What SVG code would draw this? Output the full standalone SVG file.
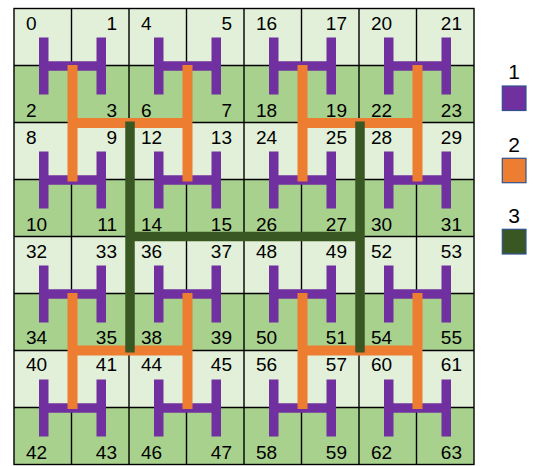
<svg xmlns="http://www.w3.org/2000/svg" width="539" height="466" viewBox="0 0 539 466">
<style>
.lt{fill:#E2F0D9}
.dk{fill:#A9D18E}
.gl{stroke:#000;stroke-width:1.4;fill:none}
.lb{font-family:"Liberation Sans",Arial,sans-serif;font-size:19px;fill:#000}
.e{text-anchor:end}
.lg{font-family:"Liberation Sans",Arial,sans-serif;font-size:21px;fill:#000;text-anchor:middle}
.p{stroke:#7030A0;stroke-width:9.5;fill:none}
.o{stroke:#ED7D31;stroke-width:10;fill:none}
.g{stroke:#385723;stroke-width:9.5;fill:none}
.sq{stroke:#2F528F;stroke-width:1.2}
</style>
<rect width="539" height="466" fill="#fff"/>
<g id="grid">
<rect class="lt" x="14" y="8.5" width="460" height="57"/>
<rect class="dk" x="14" y="65.5" width="460" height="57"/>
<rect class="lt" x="14" y="122.5" width="460" height="57"/>
<rect class="dk" x="14" y="179.5" width="460" height="57"/>
<rect class="lt" x="14" y="236.5" width="460" height="57"/>
<rect class="dk" x="14" y="293.5" width="460" height="57"/>
<rect class="lt" x="14" y="350.5" width="460" height="57"/>
<rect class="dk" x="14" y="407.5" width="460" height="57"/>
<path class="gl" d="M71.5 8.5V464.5M129 8.5V464.5M186.5 8.5V464.5M244 8.5V464.5M301.5 8.5V464.5M359 8.5V464.5M416.5 8.5V464.5M14 65.5H474M14 122.5H474M14 179.5H474M14 236.5H474M14 293.5H474M14 350.5H474M14 407.5H474"/>
<rect class="gl" x="14" y="8.5" width="460" height="456" stroke-width="1.8"/>
</g>
<g id="labels" class="lb">
<text x="26" y="29.5">0</text><text class="e" x="117" y="29.5">1</text><text x="141" y="29.5">4</text><text class="e" x="232" y="29.5">5</text><text x="256" y="29.5">16</text><text class="e" x="347" y="29.5">17</text><text x="371" y="29.5">20</text><text class="e" x="462" y="29.5">21</text>
<text x="26" y="117">2</text><text class="e" x="117" y="117">3</text><text x="141" y="117">6</text><text class="e" x="232" y="117">7</text><text x="256" y="117">18</text><text class="e" x="347" y="117">19</text><text x="371" y="117">22</text><text class="e" x="462" y="117">23</text>
<text x="26" y="143.5">8</text><text class="e" x="117" y="143.5">9</text><text x="141" y="143.5">12</text><text class="e" x="232" y="143.5">13</text><text x="256" y="143.5">24</text><text class="e" x="347" y="143.5">25</text><text x="371" y="143.5">28</text><text class="e" x="462" y="143.5">29</text>
<text x="26" y="231">10</text><text class="e" x="117" y="231">11</text><text x="141" y="231">14</text><text class="e" x="232" y="231">15</text><text x="256" y="231">26</text><text class="e" x="347" y="231">27</text><text x="371" y="231">30</text><text class="e" x="462" y="231">31</text>
<text x="26" y="257.5">32</text><text class="e" x="117" y="257.5">33</text><text x="141" y="257.5">36</text><text class="e" x="232" y="257.5">37</text><text x="256" y="257.5">48</text><text class="e" x="347" y="257.5">49</text><text x="371" y="257.5">52</text><text class="e" x="462" y="257.5">53</text>
<text x="26" y="344">34</text><text class="e" x="117" y="344">35</text><text x="141" y="344">38</text><text class="e" x="232" y="344">39</text><text x="256" y="344">50</text><text class="e" x="347" y="344">51</text><text x="371" y="344">54</text><text class="e" x="462" y="344">55</text>
<text x="26" y="371">40</text><text class="e" x="117" y="371">41</text><text x="141" y="371">44</text><text class="e" x="232" y="371">45</text><text x="256" y="371">56</text><text class="e" x="347" y="371">57</text><text x="371" y="371">60</text><text class="e" x="462" y="371">61</text>
<text x="26" y="458.5">42</text><text class="e" x="117" y="458.5">43</text><text x="141" y="458.5">46</text><text class="e" x="232" y="458.5">47</text><text x="256" y="458.5">58</text><text class="e" x="347" y="458.5">59</text><text x="371" y="458.5">62</text><text class="e" x="462" y="458.5">63</text>
</g>
<g id="connectors">
<g id="level1" class="p">
<path d="M43.75 37.5V94.5M101.25 37.5V94.5M43.75 66H101.25M158.75 37.5V94.5M216.25 37.5V94.5M158.75 66H216.25M273.75 37.5V94.5M331.25 37.5V94.5M273.75 66H331.25M388.75 37.5V94.5M446.25 37.5V94.5M388.75 66H446.25"/>
<path d="M43.75 151.5V208.5M101.25 151.5V208.5M43.75 180H101.25M158.75 151.5V208.5M216.25 151.5V208.5M158.75 180H216.25M273.75 151.5V208.5M331.25 151.5V208.5M273.75 180H331.25M388.75 151.5V208.5M446.25 151.5V208.5M388.75 180H446.25"/>
<path d="M43.75 265.5V322.5M101.25 265.5V322.5M43.75 294H101.25M158.75 265.5V322.5M216.25 265.5V322.5M158.75 294H216.25M273.75 265.5V322.5M331.25 265.5V322.5M273.75 294H331.25M388.75 265.5V322.5M446.25 265.5V322.5M388.75 294H446.25"/>
<path d="M43.75 379.5V436.5M101.25 379.5V436.5M43.75 408H101.25M158.75 379.5V436.5M216.25 379.5V436.5M158.75 408H216.25M273.75 379.5V436.5M331.25 379.5V436.5M273.75 408H331.25M388.75 379.5V436.5M446.25 379.5V436.5M388.75 408H446.25"/>
</g>
<g id="level2" class="o">
<path d="M72.5 65V181.5M187.5 65V181.5M72.5 123H187.5M302.5 65V181.5M417.5 65V181.5M302.5 123H417.5"/>
<path d="M72.5 293V409M187.5 293V409M72.5 350.5H187.5M302.5 293V409M417.5 293V409M302.5 350.5H417.5"/>
</g>
<g id="level3" class="g">
<path d="M130 121.5V352.5M360 121.5V352.5M130 236.5H360"/>
</g>
</g>
<g id="legend">
<g id="legend1"><text class="lg" x="514" y="78.5">1</text><rect class="sq" x="502.3" y="86" width="23.7" height="24.5" fill="#7030A0"/></g>
<g id="legend2"><text class="lg" x="514" y="152">2</text><rect class="sq" x="502.3" y="158.3" width="23.7" height="24.4" fill="#ED7D31"/></g>
<g id="legend3"><text class="lg" x="514" y="223">3</text><rect class="sq" x="502.3" y="229.3" width="23.7" height="24.7" fill="#385723"/></g>
</g>
</svg>
